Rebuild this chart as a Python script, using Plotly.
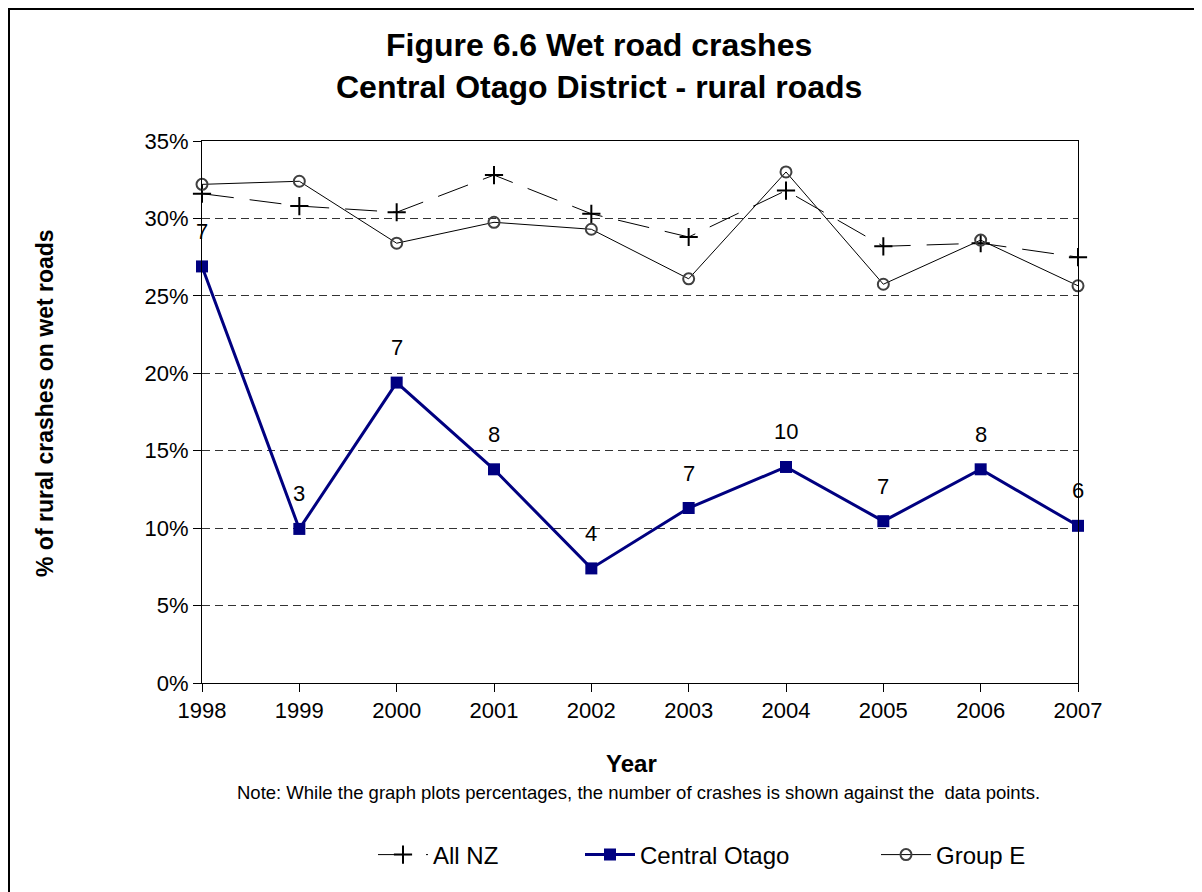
import plotly.graph_objects as go

years = [1998, 1999, 2000, 2001, 2002, 2003, 2004, 2005, 2006, 2007]

# % of rural crashes on wet roads
all_nz = [31.6, 30.8, 30.4, 32.8, 30.3, 28.8, 31.8, 28.2, 28.4, 27.5]
central_otago = [26.9, 9.95, 19.4, 13.8, 7.4, 11.3, 13.95, 10.45, 13.8, 10.15]
group_e = [32.2, 32.4, 28.4, 29.75, 29.3, 26.1, 33.0, 25.75, 28.6, 25.65]

# number of crashes shown against the Central Otago points
crash_counts = [7, 3, 7, 8, 4, 7, 10, 7, 8, 6]

y_ticks = [0, 5, 10, 15, 20, 25, 30, 35]
y_tick_text = [f"{v}%" for v in y_ticks]

FONT = "Arial, Liberation Sans, sans-serif"
NAVY = "#000080"

# page has an 8px body margin, so the figure is drawn 8px in from the window edge
OFF = 8
FIG_W, FIG_H = 1202 - OFF, 892 - OFF
# plot area in window pixels: x 202..1078, y 141..683
PX0, PX1, PY0, PY1 = 202, 1078, 141, 683
W, H = PX1 - PX0, PY1 - PY0
L, T = PX0 - OFF, PY0 - OFF
R, B = FIG_W - L - W, FIG_H - T - H


def px(x):
    return (x - PX0) / W


def py(y):
    return (PY1 - y) / H


fig = go.Figure()

fig.add_trace(go.Scatter(
    x=years, y=all_nz, name="All NZ", mode="lines+markers",
    line=dict(color="black", width=1, dash="32px,16px"),
    marker=dict(symbol="cross-thin", size=13, line=dict(color="black", width=2)),
    cliponaxis=False, legend="legend"))

fig.add_trace(go.Scatter(
    x=years, y=central_otago, name="Central Otago", mode="lines+markers",
    line=dict(color=NAVY, width=3),
    marker=dict(symbol="square", size=12, color=NAVY),
    cliponaxis=False, legend="legend2"))

fig.add_trace(go.Scatter(
    x=years, y=group_e, name="Group E", mode="lines+markers",
    line=dict(color="black", width=1),
    marker=dict(symbol="circle-open", size=11, color="#404040", line=dict(width=2)),
    cliponaxis=False, legend="legend3"))

for yr, val, n in zip(years, central_otago, crash_counts):
    fig.add_annotation(x=yr, y=val, text=str(n), showarrow=False, yshift=35,
                       font=dict(size=22, color="black", family=FONT))

annots = [
    dict(text="<b>Figure 6.6 Wet road crashes</b>", x=px(599), y=py(45), size=32),
    dict(text="<b>Central Otago District - rural roads</b>", x=px(599), y=py(87), size=32),
    dict(text="<b>Year</b>", x=px(631), y=py(763), size=24),
    dict(text="Note: While the graph plots percentages, the number of crashes is shown against the  data points.",
         x=px(638), y=py(792), size=18.5),
]
for a in annots:
    fig.add_annotation(xref="paper", yref="paper", x=a["x"], y=a["y"], text=a["text"],
                       showarrow=False, xanchor="center", yanchor="middle",
                       font=dict(size=a["size"], color="black", family=FONT))

fig.add_annotation(xref="paper", yref="paper", x=px(45), y=py(403), textangle=-90,
                   text="<b>% of rural crashes on wet roads</b>", showarrow=False,
                   xanchor="center", yanchor="middle",
                   font=dict(size=23, color="black", family=FONT))

# outer chart border
fig.add_shape(type="rect", xref="paper", yref="paper",
              x0=px(OFF + 1), x1=px(1198), y0=py(899), y1=py(OFF + 1),
              line=dict(color="black", width=2))

legend_common = dict(orientation="h", yanchor="middle", y=py(855), xanchor="left",
                     itemwidth=50, bgcolor="rgba(0,0,0,0)",
                     font=dict(size=24, color="black", family=FONT))

fig.update_layout(
    width=FIG_W, height=FIG_H,
    margin=dict(l=L, r=R, t=T, b=B),
    paper_bgcolor="white", plot_bgcolor="white",
    font=dict(family=FONT, color="black"),
    showlegend=True,
    legend=dict(x=px(373), **legend_common),
    legend2=dict(x=px(580), **legend_common),
    legend3=dict(x=px(876), **legend_common),
    xaxis=dict(range=[1998, 2007], tickvals=years, ticks="outside", ticklen=8,
               tickcolor="black", showline=True, linecolor="black", linewidth=1,
               mirror=True, showgrid=False, zeroline=False,
               tickfont=dict(size=22, color="black", family=FONT)),
    yaxis=dict(range=[0, 35], tickvals=y_ticks, ticktext=y_tick_text, ticks="outside",
               ticklen=8, tickcolor="black", showline=True, linecolor="black",
               linewidth=1, mirror=True, showgrid=True, gridcolor="#333333",
               griddash="8px,5px", gridwidth=1, zeroline=False,
               tickfont=dict(size=22, color="black", family=FONT)),
)

fig.write_html("out.html")
